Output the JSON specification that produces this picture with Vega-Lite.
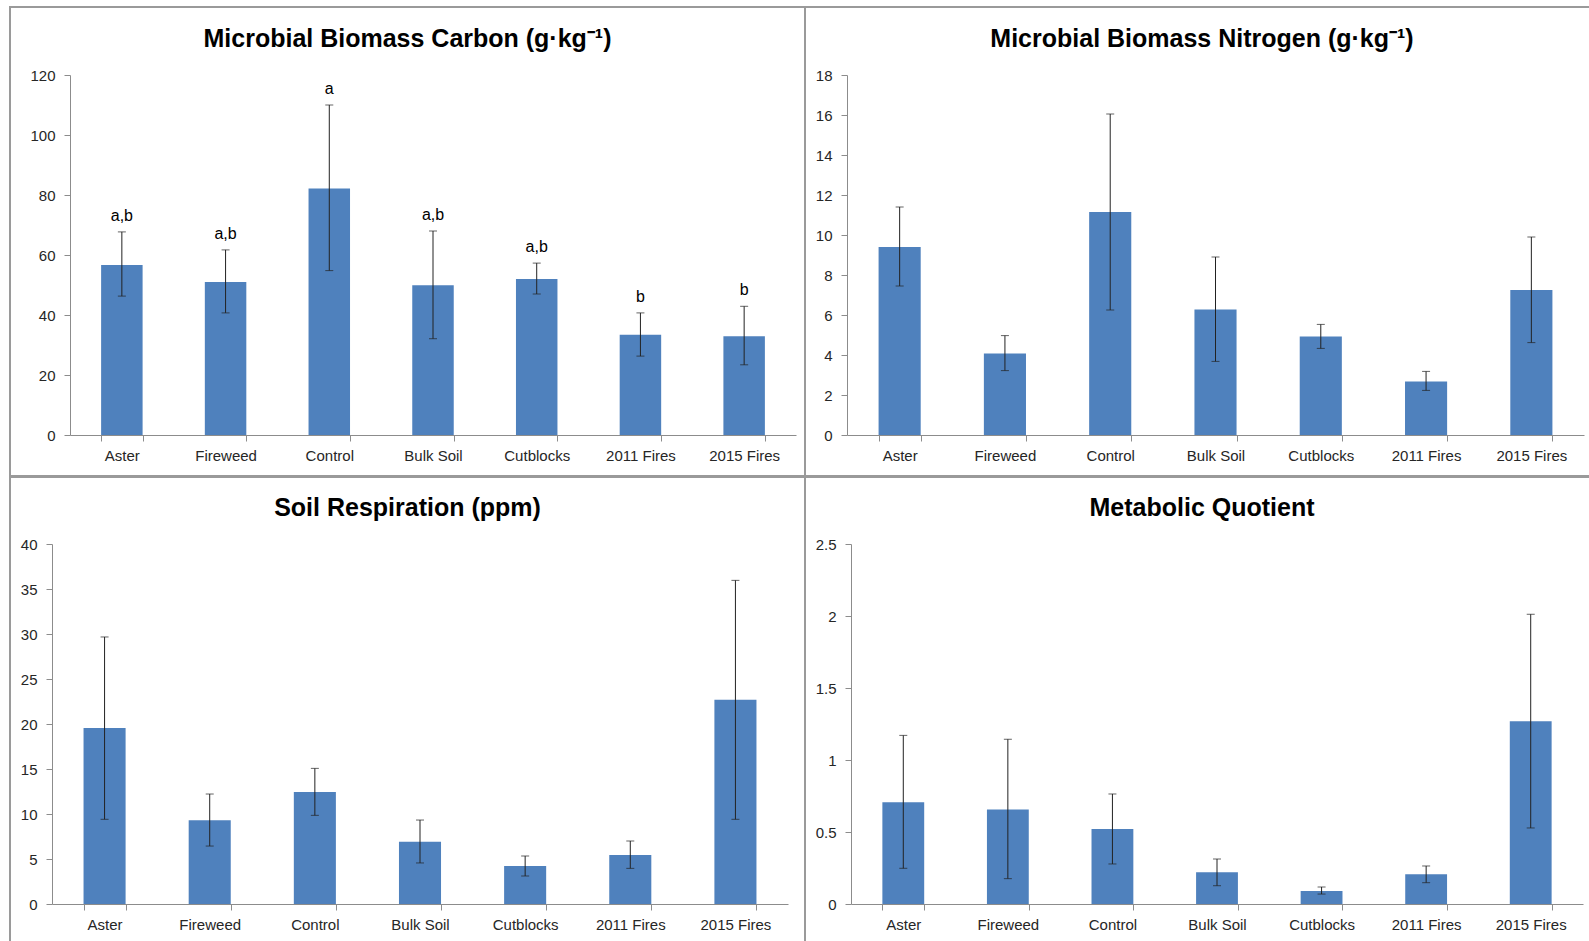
{
  "$schema": "https://vega.github.io/schema/vega-lite/v6.json",
  "background": "white",
  "padding": {"left": 9, "top": 6, "right": -3, "bottom": -3},
  "datasets": {
    "mbc": [
      {"cat": "Aster", "mean": 56.7, "lo": 46.3, "hi": 67.7, "sig": "a,b"},
      {"cat": "Fireweed", "mean": 51.0, "lo": 40.7, "hi": 61.7, "sig": "a,b"},
      {"cat": "Control", "mean": 82.2, "lo": 54.8, "hi": 110.0, "sig": "a"},
      {"cat": "Bulk Soil", "mean": 49.9, "lo": 32.1, "hi": 68.0, "sig": "a,b"},
      {"cat": "Cutblocks", "mean": 52.0, "lo": 47.0, "hi": 57.3, "sig": "a,b"},
      {"cat": "2011 Fires", "mean": 33.4, "lo": 26.3, "hi": 40.7, "sig": "b"},
      {"cat": "2015 Fires", "mean": 32.9, "lo": 23.4, "hi": 42.9, "sig": "b"}
    ],
    "mbn": [
      {"cat": "Aster", "mean": 9.4, "lo": 7.45, "hi": 11.4},
      {"cat": "Fireweed", "mean": 4.08, "lo": 3.22, "hi": 4.97},
      {"cat": "Control", "mean": 11.15, "lo": 6.25, "hi": 16.05},
      {"cat": "Bulk Soil", "mean": 6.27, "lo": 3.68, "hi": 8.9},
      {"cat": "Cutblocks", "mean": 4.93, "lo": 4.33, "hi": 5.53},
      {"cat": "2011 Fires", "mean": 2.67, "lo": 2.23, "hi": 3.18},
      {"cat": "2015 Fires", "mean": 7.25, "lo": 4.62, "hi": 9.9}
    ],
    "sr": [
      {"cat": "Aster", "mean": 19.56, "lo": 9.41, "hi": 29.67},
      {"cat": "Fireweed", "mean": 9.3, "lo": 6.44, "hi": 12.22},
      {"cat": "Control", "mean": 12.44, "lo": 9.85, "hi": 15.07},
      {"cat": "Bulk Soil", "mean": 6.93, "lo": 4.56, "hi": 9.33},
      {"cat": "Cutblocks", "mean": 4.22, "lo": 3.11, "hi": 5.33},
      {"cat": "2011 Fires", "mean": 5.44, "lo": 3.96, "hi": 7.0},
      {"cat": "2015 Fires", "mean": 22.7, "lo": 9.41, "hi": 35.96}
    ],
    "mq": [
      {"cat": "Aster", "mean": 0.706, "lo": 0.248, "hi": 1.171},
      {"cat": "Fireweed", "mean": 0.657, "lo": 0.176, "hi": 1.144},
      {"cat": "Control", "mean": 0.521, "lo": 0.278, "hi": 0.764},
      {"cat": "Bulk Soil", "mean": 0.22, "lo": 0.127, "hi": 0.3125},
      {"cat": "Cutblocks", "mean": 0.09, "lo": 0.069, "hi": 0.118},
      {"cat": "2011 Fires", "mean": 0.206, "lo": 0.148, "hi": 0.264},
      {"cat": "2015 Fires", "mean": 1.269, "lo": 0.528, "hi": 2.012}
    ]
  },
  "vconcat": [
    {
      "hconcat": [
        {
          "width": 795, "height": 469,
          "data": {"name": "mbc"},
          "title": {"text": "Microbial Biomass Carbon (g·kg⁻¹)", "offset": -45, "dx": 0},
          "encoding": {"x": {"field": "cat", "type": "nominal", "sort": null, "title": null, "scale": {"range": [60, 786]}, "axis": {"offset": -41}}},
          "layer": [
            {"mark": {"type": "bar"},
             "encoding": {"y": {"field": "mean", "type": "quantitative", "title": null,
               "scale": {"domain": [0, 120], "nice": false, "range": [428, 68]},
               "axis": {"values": [0, 20, 40, 60, 80, 100, 120], "offset": -60}}}},
            {"mark": {"type": "rule", "color": "#222", "strokeWidth": 1},
             "encoding": {"y": {"field": "lo", "type": "quantitative", "title": null,
               "scale": {"domain": [0, 120], "nice": false, "range": [428, 68]},
               "axis": {"values": [0, 20, 40, 60, 80, 100, 120], "offset": -60}}, "y2": {"field": "hi"}}},
            {"mark": {"type": "tick", "orient": "horizontal", "size": 8, "thickness": 1, "color": "#222"},
             "encoding": {"y": {"field": "hi", "type": "quantitative", "title": null,
               "scale": {"domain": [0, 120], "nice": false, "range": [428, 68]},
               "axis": {"values": [0, 20, 40, 60, 80, 100, 120], "offset": -60}}}},
            {"mark": {"type": "tick", "orient": "horizontal", "size": 8, "thickness": 1, "color": "#222"},
             "encoding": {"y": {"field": "lo", "type": "quantitative", "title": null,
               "scale": {"domain": [0, 120], "nice": false, "range": [428, 68]},
               "axis": {"values": [0, 20, 40, 60, 80, 100, 120], "offset": -60}}}},
            {"mark": {"type": "text", "font": "Liberation Sans", "fontSize": 16, "color": "#000", "baseline": "alphabetic", "dy": -11},
             "encoding": {"y": {"field": "hi", "type": "quantitative", "title": null,
               "scale": {"domain": [0, 120], "nice": false, "range": [428, 68]},
               "axis": {"values": [0, 20, 40, 60, 80, 100, 120], "offset": -60}}, "text": {"field": "sig"}}}
          ]
        },
        {
          "width": 786, "height": 469,
          "data": {"name": "mbn"},
          "title": {"text": "Microbial Biomass Nitrogen (g·kg⁻¹)", "offset": -45, "dx": 4},
          "encoding": {"x": {"field": "cat", "type": "nominal", "sort": null, "title": null, "scale": {"range": [42, 779]}, "axis": {"offset": -41}}},
          "layer": [
            {"mark": {"type": "bar"},
             "encoding": {"y": {"field": "mean", "type": "quantitative", "title": null,
               "scale": {"domain": [0, 18], "nice": false, "range": [428, 68]},
               "axis": {"values": [0, 2, 4, 6, 8, 10, 12, 14, 16, 18], "offset": -42}}}},
            {"mark": {"type": "rule", "color": "#222", "strokeWidth": 1},
             "encoding": {"y": {"field": "lo", "type": "quantitative", "title": null,
               "scale": {"domain": [0, 18], "nice": false, "range": [428, 68]},
               "axis": {"values": [0, 2, 4, 6, 8, 10, 12, 14, 16, 18], "offset": -42}}, "y2": {"field": "hi"}}},
            {"mark": {"type": "tick", "orient": "horizontal", "size": 8, "thickness": 1, "color": "#222"},
             "encoding": {"y": {"field": "hi", "type": "quantitative", "title": null,
               "scale": {"domain": [0, 18], "nice": false, "range": [428, 68]},
               "axis": {"values": [0, 2, 4, 6, 8, 10, 12, 14, 16, 18], "offset": -42}}}},
            {"mark": {"type": "tick", "orient": "horizontal", "size": 8, "thickness": 1, "color": "#222"},
             "encoding": {"y": {"field": "lo", "type": "quantitative", "title": null,
               "scale": {"domain": [0, 18], "nice": false, "range": [428, 68]},
               "axis": {"values": [0, 2, 4, 6, 8, 10, 12, 14, 16, 18], "offset": -42}}}}
          ]
        }
      ],
      "spacing": 0,
      "bounds": "flush"
    },
    {
      "hconcat": [
        {
          "width": 795, "height": 467,
          "data": {"name": "sr"},
          "title": {"text": "Soil Respiration (ppm)", "offset": -44, "dx": 0},
          "encoding": {"x": {"field": "cat", "type": "nominal", "sort": null, "title": null, "scale": {"range": [42, 778]}, "axis": {"offset": -40}}},
          "layer": [
            {"mark": {"type": "bar"},
             "encoding": {"y": {"field": "mean", "type": "quantitative", "title": null,
               "scale": {"domain": [0, 40], "nice": false, "range": [427, 67]},
               "axis": {"values": [0, 5, 10, 15, 20, 25, 30, 35, 40], "offset": -42}}}},
            {"mark": {"type": "rule", "color": "#222", "strokeWidth": 1},
             "encoding": {"y": {"field": "lo", "type": "quantitative", "title": null,
               "scale": {"domain": [0, 40], "nice": false, "range": [427, 67]},
               "axis": {"values": [0, 5, 10, 15, 20, 25, 30, 35, 40], "offset": -42}}, "y2": {"field": "hi"}}},
            {"mark": {"type": "tick", "orient": "horizontal", "size": 8, "thickness": 1, "color": "#222"},
             "encoding": {"y": {"field": "hi", "type": "quantitative", "title": null,
               "scale": {"domain": [0, 40], "nice": false, "range": [427, 67]},
               "axis": {"values": [0, 5, 10, 15, 20, 25, 30, 35, 40], "offset": -42}}}},
            {"mark": {"type": "tick", "orient": "horizontal", "size": 8, "thickness": 1, "color": "#222"},
             "encoding": {"y": {"field": "lo", "type": "quantitative", "title": null,
               "scale": {"domain": [0, 40], "nice": false, "range": [427, 67]},
               "axis": {"values": [0, 5, 10, 15, 20, 25, 30, 35, 40], "offset": -42}}}}
          ]
        },
        {
          "width": 786, "height": 467,
          "data": {"name": "mq"},
          "title": {"text": "Metabolic Quotient", "offset": -44, "dx": 4},
          "encoding": {"x": {"field": "cat", "type": "nominal", "sort": null, "title": null, "scale": {"range": [46, 778]}, "axis": {"offset": -40}}},
          "layer": [
            {"mark": {"type": "bar"},
             "encoding": {"y": {"field": "mean", "type": "quantitative", "title": null,
               "scale": {"domain": [0, 2.5], "nice": false, "range": [427, 67]},
               "axis": {"values": [0, 0.5, 1, 1.5, 2, 2.5], "format": "~g", "offset": -46}}}},
            {"mark": {"type": "rule", "color": "#222", "strokeWidth": 1},
             "encoding": {"y": {"field": "lo", "type": "quantitative", "title": null,
               "scale": {"domain": [0, 2.5], "nice": false, "range": [427, 67]},
               "axis": {"values": [0, 0.5, 1, 1.5, 2, 2.5], "format": "~g", "offset": -46}}, "y2": {"field": "hi"}}},
            {"mark": {"type": "tick", "orient": "horizontal", "size": 8, "thickness": 1, "color": "#222"},
             "encoding": {"y": {"field": "hi", "type": "quantitative", "title": null,
               "scale": {"domain": [0, 2.5], "nice": false, "range": [427, 67]},
               "axis": {"values": [0, 0.5, 1, 1.5, 2, 2.5], "format": "~g", "offset": -46}}}},
            {"mark": {"type": "tick", "orient": "horizontal", "size": 8, "thickness": 1, "color": "#222"},
             "encoding": {"y": {"field": "lo", "type": "quantitative", "title": null,
               "scale": {"domain": [0, 2.5], "nice": false, "range": [427, 67]},
               "axis": {"values": [0, 0.5, 1, 1.5, 2, 2.5], "format": "~g", "offset": -46}}}}
          ]
        }
      ],
      "spacing": 0,
      "bounds": "flush"
    }
  ],
  "spacing": -2,
  "config": {
    "view": {"stroke": "#9a9a9a", "strokeWidth": 2},
    "font": "Liberation Sans",
    "bar": {"color": "#4F81BD"},
    "scale": {"bandPaddingInner": 0.6, "bandPaddingOuter": 0.3},
    "axis": {"grid": false, "domainColor": "#8c8c8c", "tickColor": "#8c8c8c", "labelFont": "Liberation Sans", "labelFontSize": 15, "labelColor": "#262626", "tickSize": 6},
    "axisX": {"labelAngle": 0, "tickBand": "extent", "labelPadding": 7},
    "axisY": {"labelPadding": 9},
    "title": {"font": "Liberation Sans", "fontSize": 25, "fontWeight": "bold", "color": "#000", "baseline": "alphabetic", "anchor": "middle", "frame": "group"}
  }
}
